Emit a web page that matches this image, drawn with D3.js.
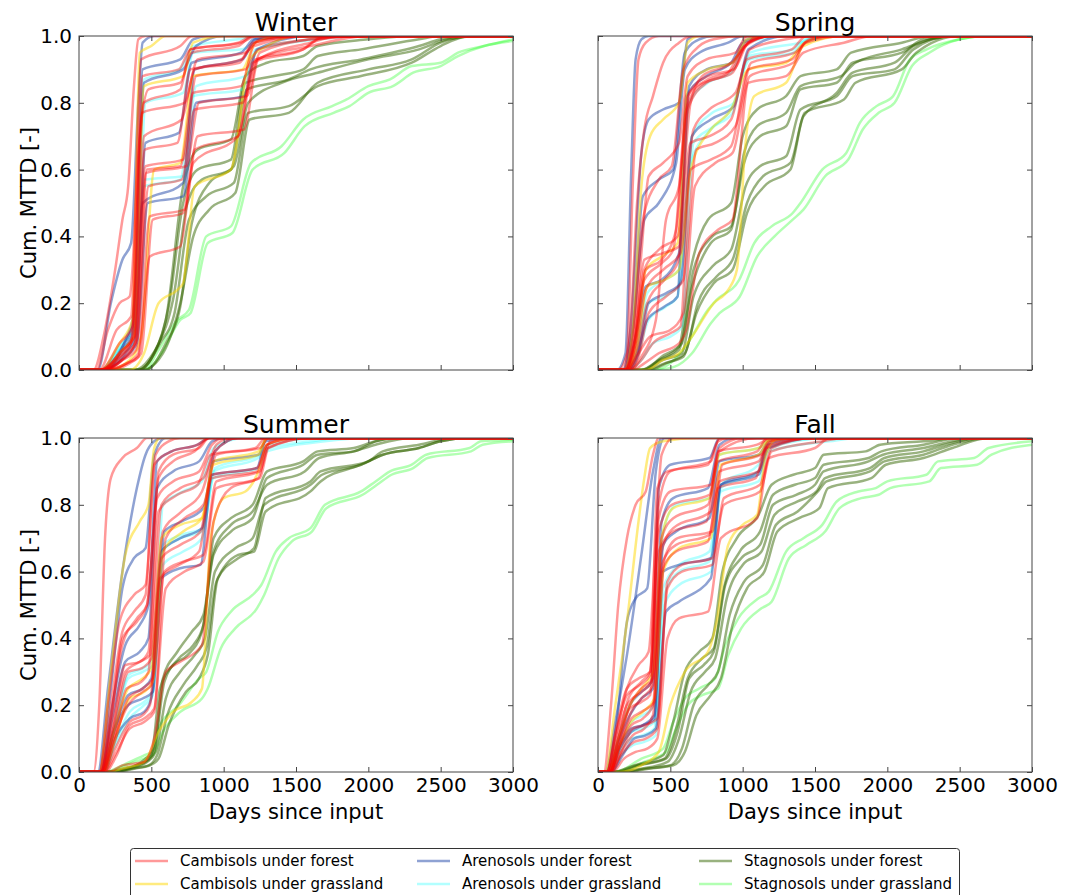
<!DOCTYPE html>
<html>
<head>
<meta charset="utf-8">
<script src="https://cdn.jsdelivr.net/npm/d3@7"></script>
<style>
  html, body { margin: 0; padding: 0; background: #fff; }
  svg { display: block; font-family: "DejaVu Sans", sans-serif; }
</style>
</head>
<body>
<svg id="chart" width="1074" height="895"></svg>
<script>
// ---------------- DATA ----------------
const seasons = ["Winter", "Spring", "Summer", "Fall"];
const categories = ["Cambisols under forest", "Cambisols under grassland",
  "Arenosols under forest", "Arenosols under grassland",
  "Stagnosols under forest", "Stagnosols under grassland"];
const xTicks = [0, 500, 1000, 1500, 2000, 2500, 3000];
const yTicks = [0.0, 0.2, 0.4, 0.6, 0.8, 1.0];
const xLabel = "Days since input";
const yLabel = "Cum. MTTD [-]";

// each curve: [day, cumulative fraction] knots
const winterCambForest = [
  [[100,0],[170,0.1],[250,0.3],[300,0.45],[340,0.55],[380,0.85],[410,0.99],[460,1]],
  [[120,0],[200,0.12],[280,0.2],[350,0.22],[420,0.7],[480,0.84],[700,0.86],[780,0.95],[1100,0.97],[1200,1]],
  [[150,0],[280,0.05],[370,0.1],[440,0.88],[690,0.9],[770,0.96],[1120,0.98],[1230,1]],
  [[150,0],[280,0.04],[360,0.08],[435,0.77],[730,0.8],[820,0.93],[1150,0.95],[1250,0.99],[1500,1]],
  [[160,0],[300,0.06],[385,0.1],[455,0.66],[680,0.68],[770,0.9],[1110,0.92],[1200,0.98],[1600,1]],
  [[160,0],[300,0.03],[380,0.07],[460,0.61],[720,0.63],[810,0.88],[1150,0.9],[1240,0.96],[1600,0.99],[2000,1]],
  [[170,0],[300,0.03],[395,0.06],[470,0.6],[700,0.61],[790,0.83],[1120,0.85],[1210,0.97],[1600,1]],
  [[170,0],[320,0.04],[390,0.08],[465,0.59],[740,0.61],[830,0.8],[1160,0.82],[1250,0.95],[1600,0.99],[1900,1]],
  [[170,0],[320,0.05],[400,0.09],[480,0.55],[710,0.57],[800,0.78],[1130,0.8],[1230,0.93],[1600,0.97],[2000,1]],
  [[180,0],[330,0.02],[410,0.05],[490,0.46],[730,0.48],[820,0.7],[1140,0.72],[1240,0.93],[1600,0.98],[1800,1]],
  [[180,0],[330,0.02],[410,0.04],[490,0.34],[700,0.37],[790,0.62],[1100,0.7],[1220,0.93],[1550,0.96],[1700,1]],
  [[150,0],[280,0.08],[370,0.13],[445,0.8],[700,0.84],[770,0.96],[1100,0.98],[1200,1]],
  [[140,0],[260,0.12],[360,0.16],[430,0.93],[700,0.97],[780,1]],
  [[160,0],[300,0.05],[380,0.1],[450,0.7],[710,0.75],[800,0.9],[1120,0.93],[1220,0.98],[1500,1]],
  [[200,0],[350,0.02],[430,0.05],[510,0.45],[720,0.47],[800,0.66],[1100,0.7],[1200,0.92],[1550,0.96],[1650,0.99],[2000,1]]
];
const winterCambGrass = [
  [[150,0],[280,0.08],[370,0.15],[420,0.95],[500,0.97],[600,1]],
  [[200,0],[350,0.03],[430,0.1],[520,0.6],[700,0.62],[790,0.88],[1130,0.9],[1220,0.98],[1400,1]],
  [[350,0],[450,0.05],[550,0.2],[680,0.24],[720,0.26],[800,0.55],[1050,0.6],[1180,0.93],[1300,0.97],[1500,1]],
  [[160,0],[300,0.06],[380,0.1],[450,0.85],[720,0.88],[790,0.98],[1000,1]]
];
const winterArenForest = [
  [[130,0],[220,0.2],[300,0.33],[360,0.38],[410,0.8],[440,0.98],[520,1]],
  [[150,0],[300,0.06],[380,0.12],[440,0.9],[700,0.93],[790,0.99],[900,1]],
  [[150,0],[300,0.07],[375,0.14],[450,0.86],[720,0.9],[810,0.97],[1000,1]],
  [[160,0],[320,0.05],[390,0.1],[460,0.68],[690,0.71],[780,0.92],[1120,0.95],[1210,0.99],[1500,1]],
  [[170,0],[320,0.04],[400,0.08],[475,0.5],[720,0.52],[810,0.8],[1140,0.82],[1230,0.96],[1600,1]],
  [[180,0],[330,0.1],[370,0.15],[440,0.5],[720,0.56],[800,0.9],[1130,0.93],[1220,0.99],[1500,1]]
];
const winterArenGrass = [
  [[150,0],[280,0.06],[380,0.1],[450,0.55],[700,0.57],[790,0.82],[1130,0.84],[1220,0.96],[1600,0.99],[1800,1]],
  [[150,0],[280,0.07],[380,0.12],[455,0.57],[720,0.58],[810,0.85],[1150,0.88],[1240,0.96],[1650,0.99],[2000,1]],
  [[160,0],[300,0.08],[380,0.13],[450,0.87],[700,0.9],[790,0.97],[1100,0.99],[1300,1]],
  [[170,0],[300,0.05],[390,0.09],[460,0.8],[720,0.83],[790,0.95],[1130,0.96],[1250,0.99],[1600,1]]
];
const winterStagForest = [
  [[380,0],[480,0.03],[600,0.15],[720,0.55],[820,0.66],[1050,0.69],[1150,0.88],[1300,0.92],[1550,0.94],[1650,0.97],[2000,0.99],[2300,1]],
  [[400,0],[520,0.05],[620,0.19],[720,0.5],[820,0.6],[1050,0.63],[1150,0.86],[1350,0.88],[1550,0.9],[1650,0.94],[1950,0.96],[2350,0.99],[2500,1]],
  [[420,0],[540,0.07],[650,0.21],[750,0.5],[850,0.57],[1050,0.6],[1160,0.84],[1450,0.87],[1600,0.9],[1950,0.93],[2350,0.97],[2500,0.99],[2700,1]],
  [[420,0],[560,0.08],[660,0.17],[760,0.45],[880,0.52],[1070,0.56],[1170,0.77],[1450,0.79],[1650,0.85],[1950,0.88],[2300,0.92],[2500,0.97],[2700,1]],
  [[440,0],[580,0.05],[700,0.2],[790,0.4],[900,0.48],[1080,0.53],[1180,0.75],[1450,0.77],[1650,0.86],[2000,0.9],[2300,0.93],[2500,0.98],[2700,1]],
  [[460,0],[600,0.08],[700,0.19],[780,0.44],[900,0.56],[1070,0.61],[1170,0.8],[1400,0.86],[1650,0.89],[2000,0.93],[2350,0.96],[2550,0.99],[2800,1]]
];
const winterStagGrass = [
  [[450,0],[550,0.06],[680,0.15],[760,0.18],[880,0.4],[1050,0.43],[1190,0.62],[1400,0.67],[1550,0.75],[1750,0.79],[1850,0.81],[2000,0.85],[2150,0.87],[2300,0.91],[2500,0.92],[2620,0.95],[2800,0.97],[3000,0.99]],
  [[460,0],[570,0.05],[700,0.15],[770,0.17],[890,0.38],[1060,0.41],[1200,0.6],[1420,0.65],[1560,0.73],[1760,0.77],[1870,0.79],[2000,0.83],[2170,0.85],[2310,0.89],[2500,0.91],[2620,0.94],[2800,0.97],[3000,0.985]]
];

const springCambForest = [
  [[140,0],[200,0.05],[240,0.55],[280,0.93],[330,0.98],[420,1]],
  [[170,0],[220,0.1],[270,0.5],[320,0.72],[380,0.82],[450,0.92],[560,0.98],[650,1]],
  [[180,0],[240,0.1],[310,0.45],[420,0.57],[510,0.61],[590,0.9],[700,0.97],[800,0.99],[1000,1]],
  [[190,0],[250,0.08],[320,0.3],[420,0.36],[550,0.4],[640,0.8],[720,0.88],[920,0.92],[1020,0.97],[1100,1]],
  [[190,0],[250,0.07],[320,0.27],[440,0.32],[520,0.36],[610,0.78],[700,0.85],[900,0.89],[1010,0.97],[1200,1]],
  [[200,0],[260,0.06],[330,0.24],[450,0.3],[570,0.35],[660,0.72],[770,0.78],[950,0.83],[1050,0.96],[1300,0.99],[1500,1]],
  [[200,0],[270,0.05],[340,0.2],[460,0.27],[550,0.32],[640,0.68],[770,0.7],[920,0.75],[1030,0.93],[1340,0.96],[1440,1]],
  [[210,0],[280,0.04],[350,0.17],[470,0.22],[590,0.27],[680,0.66],[810,0.68],[950,0.73],[1060,0.92],[1360,0.95],[1460,0.99],[1600,1]],
  [[220,0],[300,0.03],[380,0.08],[500,0.11],[570,0.13],[640,0.6],[780,0.63],[920,0.67],[1040,0.9],[1340,0.93],[1440,0.98],[1700,1]],
  [[240,0],[320,0.02],[420,0.05],[560,0.08],[610,0.12],[700,0.35],[830,0.42],[930,0.45],[1040,0.86],[1300,0.88],[1420,0.95],[1700,0.98],[1900,1]],
  [[220,0],[300,0.04],[400,0.15],[470,0.45],[560,0.55],[620,0.78],[750,0.86],[930,0.89],[1030,0.98],[1200,1]],
  [[180,0],[250,0.1],[300,0.35],[350,0.58],[450,0.62],[560,0.68],[620,0.88],[750,0.93],[950,0.95],[1030,1]],
  [[190,0],[250,0.08],[320,0.33],[450,0.35],[560,0.37],[630,0.83],[760,0.88],[940,0.9],[1040,0.98],[1200,1]],
  [[200,0],[260,0.08],[330,0.3],[440,0.33],[540,0.42],[620,0.82],[760,0.87],[930,0.9],[1020,0.97],[1200,1]],
  [[200,0],[280,0.05],[360,0.1],[500,0.12],[590,0.17],[670,0.55],[810,0.62],[930,0.65],[1050,0.88],[1350,0.92],[1430,0.98],[1600,1]]
];
const springCambGrass = [
  [[180,0],[240,0.12],[300,0.55],[360,0.7],[450,0.75],[560,0.8],[620,0.98],[700,1]],
  [[200,0],[270,0.07],[340,0.25],[460,0.27],[560,0.3],[640,0.6],[780,0.72],[920,0.78],[1040,0.9],[1300,0.92],[1430,0.98],[1600,1]],
  [[330,0],[450,0.03],[560,0.05],[650,0.1],[800,0.2],[900,0.24],[960,0.3],[1020,0.68],[1080,0.82],[1300,0.86],[1420,0.97],[1700,1]],
  [[200,0],[260,0.08],[330,0.3],[440,0.34],[550,0.38],[620,0.86],[760,0.9],[930,0.92],[1030,0.99],[1200,1]]
];
const springArenForest = [
  [[130,0],[190,0.05],[230,0.6],[260,0.93],[300,0.99],[350,1]],
  [[170,0],[230,0.15],[300,0.65],[350,0.75],[450,0.78],[560,0.8],[620,0.99],[680,1]],
  [[180,0],[240,0.12],[320,0.45],[420,0.5],[540,0.62],[600,0.9],[700,0.95],[900,0.98],[1000,1]],
  [[190,0],[260,0.1],[330,0.25],[440,0.27],[560,0.35],[630,0.85],[750,0.9],[930,0.92],[1030,0.99],[1200,1]],
  [[200,0],[270,0.05],[340,0.15],[460,0.19],[550,0.22],[610,0.82],[750,0.88],[920,0.92],[1000,0.98],[1200,1]],
  [[180,0],[240,0.12],[310,0.52],[420,0.57],[520,0.6],[600,0.95],[700,0.99],[800,1]],
  [[210,0],[280,0.05],[350,0.2],[470,0.23],[570,0.26],[650,0.7],[780,0.75],[940,0.79],[1040,0.96],[1300,1]]
];
const springArenGrass = [
  [[200,0],[270,0.07],[340,0.23],[460,0.27],[560,0.3],[640,0.62],[780,0.72],[930,0.77],[1040,0.94],[1350,0.96],[1430,0.99],[1600,1]],
  [[200,0],[270,0.06],[340,0.2],[460,0.22],[570,0.26],[650,0.7],[790,0.77],[940,0.8],[1050,0.95],[1400,0.98],[1600,1]],
  [[210,0],[280,0.05],[350,0.15],[470,0.19],[550,0.22],[630,0.8],[760,0.86],[920,0.89],[1030,0.98],[1300,1]],
  [[220,0],[300,0.03],[380,0.08],[500,0.1],[580,0.13],[660,0.68],[800,0.73],[920,0.78],[1050,0.93],[1350,0.95],[1450,0.99],[1700,1]]
];
const springStagForest = [
  [[300,0],[420,0.03],[560,0.07],[640,0.3],[760,0.45],[920,0.5],[1000,0.7],[1100,0.78],[1300,0.82],[1400,0.88],[1650,0.9],[1750,0.95],[2100,0.98],[2300,1]],
  [[300,0],[430,0.03],[560,0.06],[650,0.25],[780,0.38],[920,0.42],[1010,0.65],[1100,0.73],[1300,0.77],[1400,0.85],[1680,0.88],[1780,0.92],[2100,0.96],[2300,0.99],[2500,1]],
  [[320,0],[450,0.03],[580,0.05],[660,0.22],[790,0.31],[920,0.36],[1020,0.55],[1120,0.61],[1300,0.64],[1400,0.78],[1650,0.82],[1760,0.88],[2050,0.9],[2180,0.96],[2450,1]],
  [[330,0],[460,0.02],[590,0.04],[680,0.17],[800,0.26],[930,0.3],[1030,0.47],[1150,0.55],[1330,0.6],[1420,0.76],[1650,0.83],[1760,0.89],[2050,0.92],[2180,0.97],[2450,1]],
  [[320,0],[440,0.04],[580,0.08],[660,0.3],[790,0.4],[920,0.43],[1010,0.62],[1120,0.7],[1300,0.73],[1400,0.84],[1650,0.86],[1760,0.92],[2100,0.95],[2250,0.99],[2500,1]],
  [[350,0],[470,0.02],[600,0.05],[690,0.2],[820,0.28],[930,0.33],[1030,0.5],[1140,0.58],[1330,0.62],[1430,0.77],[1700,0.81],[1780,0.86],[2100,0.9],[2200,0.95],[2500,1]]
];
const springStagGrass = [
  [[380,0],[500,0.02],[620,0.08],[760,0.18],[820,0.21],[976,0.27],[1080,0.38],[1200,0.43],[1346,0.47],[1400,0.5],[1550,0.6],[1716,0.65],[1810,0.74],[1925,0.79],[2040,0.82],[2156,0.93],[2272,0.96],[2500,0.99],[2700,1]],
  [[400,0],[530,0.01],[650,0.05],[780,0.14],[840,0.17],[980,0.22],[1100,0.34],[1220,0.4],[1346,0.45],[1420,0.48],[1570,0.58],[1730,0.63],[1830,0.72],[1940,0.77],[2050,0.8],[2170,0.91],[2290,0.95],[2500,0.99],[2700,1]]
];

const summerCambForest = [
  [[100,0],[140,0.2],[180,0.7],[220,0.88],[300,0.94],[400,0.97],[470,1]],
  [[140,0],[200,0.2],[280,0.45],[380,0.53],[460,0.56],[530,0.95],[620,0.99],[700,1]],
  [[150,0],[220,0.15],[300,0.4],[400,0.45],[470,0.5],[550,0.88],[650,0.93],[800,0.96],[900,1]],
  [[150,0],[230,0.12],[320,0.3],[420,0.33],[490,0.35],[570,0.8],[700,0.85],[860,0.88],[950,0.98],[1050,1]],
  [[160,0],[240,0.1],[330,0.25],[430,0.27],[480,0.3],[550,0.78],[680,0.83],[820,0.86],[910,0.95],[1220,0.97],[1290,1]],
  [[160,0],[240,0.08],[340,0.22],[440,0.25],[510,0.28],[590,0.6],[720,0.63],[860,0.65],[950,0.87],[1250,0.9],[1320,0.99],[1400,1]],
  [[170,0],[250,0.07],[350,0.15],[440,0.17],[490,0.2],[560,0.58],[690,0.62],[830,0.66],[920,0.88],[1230,0.9],[1300,0.98],[1500,1]],
  [[170,0],[260,0.06],[350,0.13],[450,0.15],[520,0.18],[600,0.7],[730,0.76],[860,0.8],[950,0.95],[1250,0.97],[1310,1]],
  [[150,0],[230,0.14],[320,0.32],[420,0.33],[480,0.36],[550,0.9],[650,0.95],[830,0.97],[900,1]],
  [[200,0],[300,0.02],[450,0.03],[520,0.1],[600,0.3],[700,0.33],[850,0.38],[930,0.75],[1050,0.85],[1240,0.88],[1300,0.97],[1600,1]],
  [[160,0],[240,0.13],[340,0.3],[430,0.31],[500,0.34],[580,0.72],[710,0.78],[850,0.84],[940,0.96],[1100,1]],
  [[140,0],[210,0.17],[300,0.42],[380,0.48],[460,0.53],[520,0.92],[640,0.96],[820,0.98],[900,1]],
  [[150,0],[220,0.16],[300,0.38],[400,0.46],[470,0.5],[540,0.82],[650,0.87],[830,0.9],[920,0.98],[1000,1]],
  [[160,0],[240,0.1],[340,0.2],[440,0.24],[500,0.26],[570,0.64],[700,0.68],[840,0.72],[920,0.89],[1230,0.91],[1300,0.98],[1500,1]],
  [[180,0],[260,0.05],[350,0.14],[450,0.16],[520,0.19],[600,0.55],[730,0.6],[860,0.63],[950,0.85],[1250,0.88],[1310,0.97],[1600,1]]
];
const summerCambGrass = [
  [[140,0],[220,0.3],[320,0.65],[420,0.75],[480,0.8],[520,0.97],[560,1]],
  [[160,0],[240,0.12],[340,0.25],[440,0.28],[500,0.31],[570,0.7],[700,0.74],[850,0.76],[930,0.92],[1240,0.95],[1300,1]],
  [[200,0],[300,0.01],[450,0.03],[550,0.12],[650,0.18],[780,0.21],[850,0.25],[910,0.7],[1000,0.82],[1150,0.84],[1240,0.9],[1300,0.98],[1500,1]],
  [[170,0],[250,0.1],[350,0.22],[450,0.24],[510,0.27],[580,0.66],[720,0.72],[850,0.76],[930,0.93],[1240,0.96],[1300,1]]
];
const summerArenForest = [
  [[130,0],[200,0.25],[300,0.6],[400,0.85],[460,0.95],[520,0.99],[580,1]],
  [[140,0],[220,0.25],[300,0.55],[380,0.64],[460,0.67],[520,0.95],[600,1]],
  [[150,0],[230,0.2],[320,0.38],[420,0.44],[480,0.5],[540,0.93],[640,0.96],[820,0.98],[900,1]],
  [[160,0],[240,0.12],[340,0.2],[440,0.22],[510,0.24],[590,0.72],[710,0.75],[860,0.79],[940,0.96],[1100,1]],
  [[170,0],[250,0.1],[350,0.16],[450,0.18],[500,0.22],[570,0.58],[700,0.61],[840,0.62],[920,0.89],[1230,0.91],[1290,0.99],[1500,1]],
  [[150,0],[230,0.16],[320,0.33],[420,0.36],[480,0.4],[540,0.85],[650,0.9],[830,0.93],[920,0.99],[1000,1]],
  [[160,0],[240,0.12],[340,0.23],[440,0.25],[500,0.28],[570,0.66],[700,0.7],[850,0.73],[930,0.93],[1240,0.95],[1300,1]]
];
const summerArenGrass = [
  [[160,0],[240,0.13],[340,0.29],[440,0.31],[500,0.33],[570,0.66],[700,0.7],[850,0.72],[930,0.9],[1240,0.94],[1310,0.97],[1600,0.99],[1800,1]],
  [[160,0],[240,0.12],[340,0.28],[440,0.3],[510,0.32],[580,0.68],[710,0.71],[860,0.73],[940,0.91],[1250,0.95],[1310,0.98],[1700,1]],
  [[170,0],[250,0.08],[350,0.16],[450,0.2],[510,0.23],[580,0.8],[720,0.84],[850,0.87],[930,0.97],[1150,1]],
  [[170,0],[250,0.09],[350,0.18],[450,0.21],[510,0.24],[580,0.62],[720,0.66],[850,0.7],[930,0.88],[1240,0.91],[1300,0.96],[1700,0.99],[2000,1]]
];
const summerStagForest = [
  [[200,0],[300,0.01],[450,0.03],[500,0.05],[560,0.25],[650,0.32],[750,0.35],[850,0.42],[930,0.65],[1050,0.72],[1200,0.76],[1300,0.88],[1550,0.92],[1650,0.95],[1900,0.96],[2050,0.99],[2200,1]],
  [[200,0],[320,0.01],[460,0.03],[520,0.06],[580,0.28],[680,0.36],[780,0.42],[860,0.47],[930,0.66],[1050,0.74],[1200,0.78],[1300,0.86],[1560,0.9],[1660,0.94],[1900,0.96],[2050,0.98],[2300,1]],
  [[220,0],[350,0.01],[470,0.03],[530,0.06],[600,0.22],[700,0.3],[800,0.35],[870,0.4],[940,0.6],[1080,0.67],[1200,0.7],[1280,0.8],[1600,0.86],[1680,0.89],[1950,0.92],[2100,0.95],[2350,0.97],[2500,0.99],[2700,1]],
  [[240,0],[360,0.01],[480,0.02],[540,0.05],[610,0.17],[720,0.26],[820,0.32],[880,0.37],[950,0.57],[1100,0.65],[1210,0.66],[1290,0.78],[1600,0.84],[1670,0.87],[1950,0.92],[2100,0.95],[2350,0.97],[2500,0.99],[2700,1]],
  [[260,0],[380,0.01],[490,0.02],[550,0.04],[620,0.14],[740,0.24],[830,0.28],[890,0.35],[960,0.58],[1100,0.64],[1210,0.67],[1290,0.82],[1600,0.87],[1670,0.9],[2000,0.93],[2100,0.96],[2350,0.98],[2600,1]],
  [[220,0],[340,0.01],[460,0.04],[520,0.07],[590,0.27],[690,0.34],[790,0.38],[860,0.44],[930,0.7],[1050,0.76],[1200,0.8],[1300,0.9],[1550,0.93],[1650,0.96],[1900,0.97],[2050,0.99],[2200,1]]
];
const summerStagGrass = [
  [[180,0],[300,0.02],[450,0.05],[500,0.06],[560,0.14],[690,0.2],[830,0.28],[880,0.3],[960,0.42],[1050,0.48],[1200,0.53],[1260,0.56],[1360,0.66],[1450,0.7],[1600,0.73],[1700,0.8],[1950,0.84],[2050,0.87],[2150,0.9],[2300,0.92],[2400,0.95],[2700,0.97],[2780,0.99],[3000,0.995]],
  [[190,0],[320,0.02],[450,0.04],[510,0.05],[580,0.12],[700,0.18],[850,0.22],[890,0.25],[980,0.37],[1080,0.43],[1230,0.49],[1280,0.53],[1380,0.64],[1470,0.69],[1610,0.72],[1710,0.79],[1960,0.83],[2060,0.86],[2160,0.89],[2310,0.91],[2410,0.94],[2710,0.96],[2790,0.98],[3000,0.99]]
];

const fallCambForest = [
  [[40,0],[90,0.2],[140,0.5],[200,0.7],[260,0.8],[330,0.84],[380,0.95],[420,1]],
  [[60,0],[120,0.1],[200,0.25],[280,0.32],[350,0.36],[400,0.7],[440,0.95],[520,1]],
  [[70,0],[130,0.1],[200,0.2],[300,0.24],[370,0.27],[420,0.8],[500,0.9],[780,0.93],[840,1]],
  [[70,0],[140,0.09],[220,0.19],[300,0.21],[360,0.23],[420,0.66],[520,0.72],[750,0.75],[830,0.93],[1100,0.96],[1170,1]],
  [[80,0],[150,0.08],[230,0.16],[300,0.18],[390,0.21],[460,0.64],[550,0.7],[790,0.72],[860,0.92],[1130,0.95],[1200,0.99],[1400,1]],
  [[80,0],[150,0.07],[230,0.14],[310,0.16],[380,0.2],[440,0.62],[540,0.68],[770,0.71],[840,0.87],[1110,0.9],[1180,0.98],[1500,1]],
  [[80,0],[160,0.06],[240,0.11],[320,0.13],[380,0.17],[440,0.6],[540,0.66],[760,0.69],[830,0.85],[1090,0.88],[1160,0.97],[1500,1]],
  [[90,0],[160,0.05],[250,0.09],[330,0.1],[410,0.13],[480,0.57],[580,0.62],[790,0.64],[870,0.8],[1120,0.84],[1200,0.96],[1550,0.99],[1700,1]],
  [[100,0],[180,0.04],[260,0.06],[340,0.07],[410,0.1],[480,0.4],[560,0.46],[760,0.48],[850,0.7],[1100,0.76],[1180,0.94],[1500,0.97],[1600,1]],
  [[60,0],[120,0.12],[200,0.25],[280,0.28],[360,0.3],[410,0.85],[480,0.9],[760,0.92],[830,0.99],[900,1]],
  [[60,0],[120,0.11],[200,0.23],[290,0.26],[360,0.29],[420,0.76],[500,0.84],[780,0.86],[840,0.97],[1000,1]],
  [[70,0],[140,0.1],[210,0.22],[300,0.27],[360,0.3],[420,0.72],[510,0.8],[770,0.83],[830,0.96],[1100,0.98],[1200,1]],
  [[80,0],[140,0.08],[220,0.2],[300,0.25],[380,0.28],[440,0.66],[520,0.73],[780,0.78],[840,0.9],[1110,0.93],[1180,0.99],[1300,1]],
  [[80,0],[150,0.08],[230,0.18],[300,0.22],[380,0.26],[440,0.7],[520,0.76],[760,0.8],[840,0.96],[1100,1]],
  [[90,0],[160,0.06],[240,0.13],[320,0.14],[410,0.16],[480,0.55],[580,0.6],[790,0.62],[870,0.82],[1120,0.86],[1200,0.97],[1500,1]]
];
const fallCambGrass = [
  [[50,0],[120,0.2],[200,0.45],[280,0.75],[320,0.88],[360,0.97],[450,0.99],[700,1]],
  [[70,0],[140,0.1],[220,0.2],[300,0.25],[380,0.3],[440,0.7],[520,0.79],[770,0.82],[840,0.95],[1110,0.97],[1200,1]],
  [[150,0],[300,0.02],[420,0.06],[500,0.2],[600,0.3],[760,0.36],[820,0.45],[900,0.68],[1000,0.74],[1100,0.77],[1160,0.95],[1250,1]],
  [[80,0],[150,0.08],[230,0.15],[310,0.18],[390,0.22],[450,0.6],[560,0.67],[780,0.7],[850,0.92],[1110,0.95],[1180,0.99],[1400,1]]
];
const fallArenForest = [
  [[50,0],[120,0.15],[200,0.35],[300,0.65],[380,0.9],[440,1]],
  [[60,0],[130,0.15],[200,0.45],[260,0.52],[340,0.55],[400,0.9],[460,1]],
  [[70,0],[140,0.1],[220,0.2],[300,0.24],[370,0.27],[420,0.85],[500,0.92],[770,0.94],[840,1]],
  [[80,0],[150,0.08],[230,0.13],[310,0.14],[390,0.16],[450,0.6],[560,0.62],[780,0.64],[850,0.86],[1110,0.89],[1180,0.97],[1500,1]],
  [[90,0],[170,0.05],[250,0.1],[330,0.11],[400,0.13],[470,0.48],[560,0.51],[780,0.58],[850,0.86],[1110,0.9],[1170,0.98],[1400,1]],
  [[70,0],[140,0.09],[220,0.17],[300,0.22],[380,0.25],[440,0.75],[520,0.82],[760,0.85],[840,0.98],[950,1]],
  [[80,0],[150,0.07],[230,0.12],[310,0.14],[390,0.17],[450,0.68],[540,0.72],[770,0.76],[840,0.93],[1110,0.95],[1180,0.99],[1400,1]]
];
const fallArenGrass = [
  [[80,0],[150,0.06],[230,0.1],[310,0.11],[390,0.13],[450,0.52],[560,0.6],[770,0.63],[850,0.85],[1110,0.9],[1180,0.97],[1600,1]],
  [[80,0],[150,0.07],[230,0.12],[310,0.13],[390,0.15],[450,0.55],[560,0.62],[770,0.66],[850,0.86],[1110,0.92],[1180,0.98],[1600,1]],
  [[70,0],[150,0.08],[230,0.15],[310,0.17],[390,0.2],[450,0.72],[540,0.8],[770,0.82],[840,0.95],[1110,0.97],[1200,1]],
  [[90,0],[160,0.05],[240,0.08],[320,0.09],[400,0.11],[460,0.5],[560,0.56],[780,0.6],[850,0.84],[1110,0.87],[1180,0.96],[1600,0.99],[1800,1]]
];
const fallStagForest = [
  [[100,0],[250,0.02],[450,0.05],[520,0.15],[600,0.3],[700,0.36],[790,0.4],[860,0.6],[960,0.7],[1110,0.77],[1200,0.86],[1350,0.89],[1500,0.91],[1560,0.95],[1850,0.96],[1950,0.98],[2250,0.99],[2500,1]],
  [[120,0],[270,0.02],[460,0.04],[540,0.13],[620,0.28],[720,0.34],[800,0.37],[870,0.55],[980,0.66],[1120,0.72],[1210,0.83],[1360,0.86],[1500,0.88],[1560,0.92],[1870,0.94],[1960,0.96],[2250,0.98],[2500,1]],
  [[150,0],[300,0.01],[480,0.03],[560,0.1],[640,0.24],[740,0.3],[810,0.34],[890,0.52],[1000,0.62],[1130,0.66],[1220,0.77],[1380,0.81],[1510,0.84],[1570,0.88],[1880,0.91],[1980,0.94],[2250,0.96],[2400,0.98],[2650,1]],
  [[170,0],[320,0.01],[500,0.02],[580,0.07],[660,0.2],[760,0.26],[830,0.3],[910,0.47],[1010,0.57],[1140,0.62],[1230,0.74],[1380,0.78],[1520,0.84],[1580,0.87],[1880,0.9],[1980,0.93],[2250,0.95],[2450,0.98],[2700,1]],
  [[140,0],[290,0.02],[470,0.04],[550,0.12],[630,0.28],[730,0.32],[800,0.36],[880,0.56],[990,0.64],[1120,0.68],[1210,0.8],[1370,0.83],[1500,0.86],[1560,0.9],[1870,0.93],[1970,0.95],[2250,0.97],[2450,0.99],[2650,1]],
  [[200,0],[350,0.01],[520,0.02],[600,0.06],[680,0.17],[780,0.23],[850,0.28],[930,0.44],[1030,0.55],[1150,0.6],[1240,0.72],[1390,0.76],[1530,0.79],[1590,0.85],[1890,0.88],[1990,0.92],[2250,0.94],[2450,0.97],[2700,1]]
];
const fallStagGrass = [
  [[120,0],[300,0.04],[450,0.07],[520,0.15],[600,0.22],[700,0.25],[810,0.28],[880,0.38],[970,0.46],[1110,0.52],[1180,0.54],[1300,0.66],[1420,0.7],[1550,0.74],[1650,0.81],[1800,0.84],[1920,0.85],[2000,0.87],[2270,0.89],[2350,0.93],[2600,0.94],[2700,0.97],[3000,0.99]],
  [[140,0],[320,0.03],[470,0.06],[540,0.13],[620,0.2],[720,0.23],[830,0.25],[900,0.35],[990,0.43],[1130,0.49],[1200,0.51],[1320,0.64],[1440,0.68],[1570,0.72],[1670,0.79],[1820,0.82],[1940,0.83],[2020,0.85],[2290,0.87],[2370,0.91],[2620,0.92],[2720,0.95],[3000,0.98]]
];

// ---------------- STYLE / LAYOUT ----------------
const catStyle = [
  { color: "#ff0000", opacity: 0.4 },   // Cambisols forest
  { color: "#ffd700", opacity: 0.5 },   // Cambisols grassland
  { color: "#1f45a8", opacity: 0.5 },   // Arenosols forest
  { color: "#00ffff", opacity: 0.3 },   // Arenosols grassland
  { color: "#336600", opacity: 0.5 },   // Stagnosols forest
  { color: "#00ff00", opacity: 0.3 }    // Stagnosols grassland
];
const seasonData = {
  Winter: [winterCambForest, winterCambGrass, winterArenForest, winterArenGrass, winterStagForest, winterStagGrass],
  Spring: [springCambForest, springCambGrass, springArenForest, springArenGrass, springStagForest, springStagGrass],
  Summer: [summerCambForest, summerCambGrass, summerArenForest, summerArenGrass, summerStagForest, summerStagGrass],
  Fall:   [fallCambForest, fallCambGrass, fallArenForest, fallArenGrass, fallStagForest, fallStagGrass]
};
const panelPos = {
  Winter: { left: 79,  top: 36,  row: 0, col: 0 },
  Spring: { left: 598, top: 36,  row: 0, col: 1 },
  Summer: { left: 79,  top: 438, row: 1, col: 0 },
  Fall:   { left: 598, top: 438, row: 1, col: 1 }
};
const PW = 434, PH = 334;
const drawOrder = [5, 4, 3, 2, 1, 0];

const svg = d3.select("#chart");
const x = d3.scaleLinear().domain([0, 3000]).range([0, PW]);
const y = d3.scaleLinear().domain([0, 1]).range([PH, 0]);
const line = d3.line().x(d => x(d[0])).y(d => y(d[1])).curve(d3.curveMonotoneX);

seasons.forEach((s, si) => {
  const p = panelPos[s];
  const g = svg.append("g").attr("transform", `translate(${p.left},${p.top})`);

  svg.append("defs").append("clipPath").attr("id", "clip" + si)
    .append("rect").attr("width", PW).attr("height", PH);

  const lines = g.append("g").attr("clip-path", `url(#clip${si})`);
  drawOrder.forEach(ci => {
    const st = catStyle[ci];
    seasonData[s][ci].forEach(curve => {
      // series begins at 0 at day 0 and stays at its last value to the end of the axis
      const pts = [[0, 0]].concat(curve);
      const last = pts[pts.length - 1];
      if (last[0] < 3000) pts.push([3000, last[1]]);
      lines.append("path").attr("d", line(pts))
        .attr("fill", "none").attr("stroke", st.color)
        .attr("stroke-opacity", st.opacity).attr("stroke-width", 2.5)
        .attr("stroke-linejoin", "round");
    });
  });

  // axes (inward ticks on all sides)
  const fmtY = d3.format(".1f");
  const xb = d3.axisBottom(x).tickValues(xTicks).tickSize(-5).tickPadding(6)
    .tickFormat(p.row === 1 ? d3.format("d") : () => "");
  const xt = d3.axisTop(x).tickValues(xTicks).tickSize(-5).tickFormat(() => "");
  const yl = d3.axisLeft(y).tickValues(yTicks).tickSize(-5).tickPadding(7)
    .tickFormat(p.col === 0 ? fmtY : () => "");
  const yr = d3.axisRight(y).tickValues(yTicks).tickSize(-5).tickFormat(() => "");

  const axStyle = sel => {
    sel.select(".domain").remove();
    sel.selectAll(".tick line").attr("stroke", "#444");
    sel.selectAll(".tick text").attr("fill", "#000").style("font-size", "20px")
      .style("font-family", "DejaVu Sans, sans-serif");
  };
  g.append("g").attr("transform", `translate(0,${PH})`).call(xb).call(axStyle);
  g.append("g").call(xt).call(axStyle);
  g.append("g").call(yl).call(axStyle);
  g.append("g").attr("transform", `translate(${PW},0)`).call(yr).call(axStyle);

  g.append("rect").attr("width", PW).attr("height", PH)
    .attr("fill", "none").attr("stroke", "#444").attr("stroke-width", 1);

  // title
  g.append("text").attr("x", PW / 2).attr("y", -5).attr("text-anchor", "middle")
    .style("font-size", "25px").attr("fill", "#000").text(s);

  if (p.col === 0) {
    g.append("text").attr("transform", `translate(${36 - p.left},${PH / 2}) rotate(-90)`)
      .attr("text-anchor", "middle").style("font-size", "21px").attr("fill", "#000").text(yLabel);
  }
  if (p.row === 1) {
    g.append("text").attr("x", PW / 2).attr("y", PH + 47).attr("text-anchor", "middle")
      .style("font-size", "21px").attr("fill", "#000").text(xLabel);
  }
});

// legend
const lg = svg.append("g");
lg.append("rect").attr("x", 130.5).attr("y", 848.5).attr("width", 829).attr("height", 60)
  .attr("rx", 3).attr("fill", "#fff").attr("stroke", "#333").attr("stroke-width", 1);
const colX = [135, 417, 699];
const rowY = [861, 884];
categories.forEach((c, i) => {
  const col = Math.floor(i / 2), row = i % 2;
  const st = catStyle[i];
  lg.append("line").attr("x1", colX[col]).attr("x2", colX[col] + 33)
    .attr("y1", rowY[row]).attr("y2", rowY[row])
    .attr("stroke", st.color).attr("stroke-opacity", st.opacity).attr("stroke-width", 2.5);
  lg.append("text").attr("x", colX[col] + 45).attr("y", rowY[row] + 5)
    .style("font-size", "15px").attr("fill", "#000").text(c);
});
</script>
</body>
</html>
